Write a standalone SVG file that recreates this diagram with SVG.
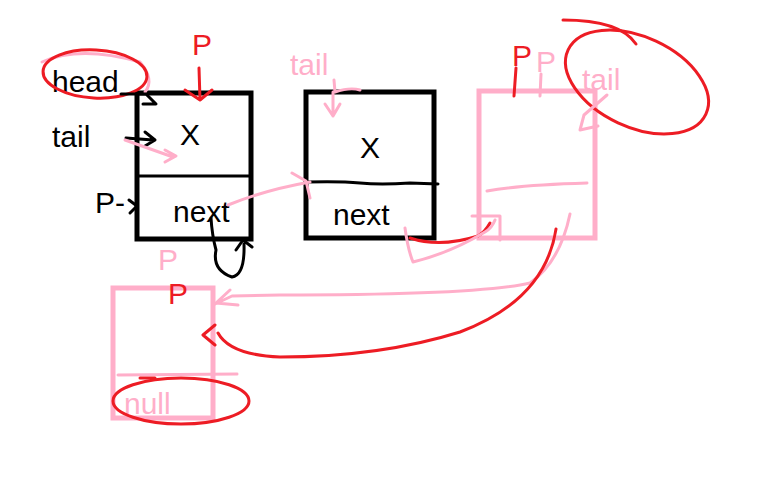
<svg xmlns="http://www.w3.org/2000/svg" width="768" height="480" viewBox="0 0 768 480">
<style>
.bk{stroke:#000;fill:none;stroke-width:3;stroke-linecap:round;stroke-linejoin:round}
.pk{stroke:#ffaec9;fill:none;stroke-width:3;stroke-linecap:round;stroke-linejoin:round}
.rd{stroke:#ed1c24;fill:none;stroke-width:3;stroke-linecap:round;stroke-linejoin:round}
.boxb{stroke:#000;fill:none;stroke-width:5}
.boxp{stroke:#ffaec9;fill:none;stroke-width:5}
.t{font-family:"Liberation Sans",Arial,sans-serif;font-size:30px}
.tb{fill:#000}.tp{fill:#ffaec9}.tr{fill:#ed1c24}
</style>
<rect width="768" height="480" fill="#fff"/>
<g id="node1">
<rect class="boxb" x="137" y="93" width="114" height="146"/>
<line class="bk" x1="137" y1="176" x2="251" y2="176"/>
<text class="t tb" x="180" y="145" font-size="34">X</text>
<text class="t tb" x="173" y="222" font-size="28">next</text>
</g>
<g id="node2">
<rect class="boxb" x="306" y="92" width="128" height="146"/>
<path class="bk" d="M306 182 Q340 181 360 183 T410 183 L438 184"/>
<text class="t tb" x="360" y="158" font-size="34">X</text>
<text class="t tb" x="333" y="225" font-size="28">next</text>
</g>
<g id="node3">
<rect class="boxp" x="479" y="91" width="116" height="147"/>
<path class="pk" d="M487 191 Q520 185 587 183"/>
<path class="pk" d="M472 216 L500 216 L500 240"/>
</g>
<g id="node4">
<rect class="boxp" x="113" y="288" width="100" height="130"/>
<path class="pk" d="M118 375 L237 374"/>
<text class="t tp" x="124" y="414" font-size="30">null</text>
<path class="rd" d="M140 378 L155 378"/>
<ellipse class="rd" cx="181" cy="401" rx="68" ry="23"/>
</g>
<g id="labels">
<text class="t tb" x="52" y="92" font-size="30">head</text>
<path class="pk" d="M42 62 Q80 45 140 62 Q155 80 145 92"/>
<ellipse class="rd" cx="95" cy="74" rx="52" ry="24" transform="rotate(3 95 74)"/>
<text class="t tb" x="52" y="147" font-size="30">tail</text>
<text class="t tb" x="95" y="213" font-size="28">P-</text>
<text class="t tr" x="192" y="55" font-size="38">P</text>
<text class="t tp" x="290" y="75" font-size="26">tail</text>
<text class="t tr" x="512" y="66" font-size="32">P</text>
<text class="t tp" x="536" y="72" font-size="22">P</text>
<text class="t tp" x="582" y="90" font-size="36">tail</text>
<ellipse class="rd" cx="637" cy="82" rx="76" ry="45" transform="rotate(25 637 82)"/>
<path class="rd" d="M563 20 Q620 20 636 44"/>
<text class="t tp" x="158" y="270" font-size="22">P</text>
<text class="t tr" x="168" y="304" font-size="30">P</text>
</g>
<g id="connectors">
<path class="bk" d="M121 94 L146 94 L156 104 L143 104"/>
<path class="bk" d="M126 138 L153 140 M145 132 L155 140 L145 146"/>
<path class="bk" d="M129 200 L137 206 L130 213"/>
<path class="pk" d="M125 140 L173 157 M165 150 L176 156 L165 162"/>
<path class="rd" d="M199 68 L200 100 M185 90 L200 100 L212 90"/>
<path class="rd" d="M516 68 L514 96"/>
<path class="pk" d="M541 74 L540 96"/>
<path class="bk" d="M211 218 Q212 235 216 250 Q212 270 232 277 Q245 275 244 244 M236 250 L243 240 L252 247"/>
<path class="pk" d="M228 205 Q265 190 310 182 M292 173 L306 181 L310 198"/>
<path class="pk" d="M334 80 L335 92 Q350 87 360 90 M333 92 L333 116 M325 104 L333 116 L340 104"/>
<path class="rd" d="M410 238 Q440 248 478 236 Q485 232 490 223"/>
<path class="pk" d="M405 228 Q408 250 413 262 Q450 253 485 232 Q492 228 495 220"/>
<path class="pk" d="M607 95 L584 115 L580 130 L598 126"/>
<path class="pk" d="M570 214 Q560 262 530 283 Q480 295 280 295 L232 296 L213 305 M238 305 L216 303 L230 290"/>
<path class="rd" d="M556 229 Q545 300 460 332 Q380 357 280 357 Q230 355 218 333 M215 325 L203 335 L215 345"/>
</g>
</svg>
